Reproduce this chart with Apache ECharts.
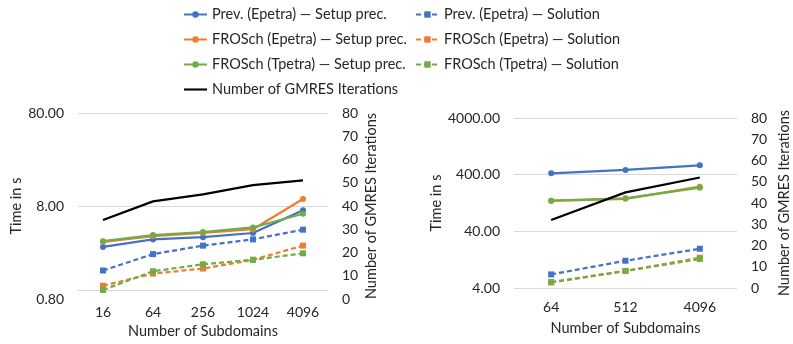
<!DOCTYPE html>
<html>
<head>
<meta charset="utf-8">
<script src="https://cdn.jsdelivr.net/npm/echarts@6/dist/echarts.min.js"></script>
<style>
  html, body { margin: 0; padding: 0; background: #fff; }
  #chart { width: 793px; height: 344px; }
</style>
</head>
<body>
<div id="chart"></div>
<script>
// left panel: 16..4096 subdomains
const subdomainsA = ['16', '64', '256', '1024', '4096'];
const prevSetupA = [2.9, 3.5, 3.7, 4.1, 7.2];
const froschESetupA = [3.3, 3.8, 4.1, 4.5, 9.5];
const froschTSetupA = [3.35, 3.9, 4.2, 4.7, 6.6];
const prevSolA = [1.62, 2.43, 3.0, 3.5, 4.45];
const froschESolA = [1.11, 1.5, 1.7, 2.11, 3.0];
const froschTSolA = [1.0, 1.59, 1.89, 2.11, 2.48];
const gmresA = [34, 42, 45, 49, 51];

// right panel: 64..4096 subdomains
const subdomainsB = ['64', '512', '4096'];
const prevSetupB = [422, 484, 584];
const froschESetupB = [138, 150, 246];
const froschTSetupB = [139, 153, 236];
const prevSolB = [6.95, 12.1, 19.7];
const froschESolB = [5.0, 8.0, 13.7];
const froschTSolB = [5.1, 8.0, 13.0];
const gmresB = [32, 45, 52];

const timeLabelsA = [0.8, 8, 80];
const timeGridA = [8, 80]; // bottom line of the left plot is drawn by the x axis
const timeLabelsB = [4, 40, 400, 4000];

const names = {
  prevSetup: 'Prev. (Epetra) — Setup prec.',
  prevSol: 'Prev. (Epetra) — Solution',
  fESetup: 'FROSch (Epetra) — Setup prec.',
  fESol: 'FROSch (Epetra) — Solution',
  fTSetup: 'FROSch (Tpetra) — Setup prec.',
  fTSol: 'FROSch (Tpetra) — Solution',
  gmres: 'Number of GMRES Iterations',
};

const BLUE = '#4472C4', ORANGE = '#ED7D31', GREEN = '#70AD47';
const FONT = 'Lato';
const TXT = '#262626';
const GRID = '#d9d9d9';

const chart = echarts.init(document.getElementById('chart'));

function timeSeries(name, data, color, dashed, idx) {
  return {
    name, type: 'line', data,
    xAxisIndex: idx, yAxisIndex: idx * 2,
    symbol: dashed ? 'rect' : 'circle',
    symbolSize: 6,
    lineStyle: { width: 2.25, color, type: dashed ? [5, 3] : 'solid' },
    itemStyle: { color },
    animation: false,
  };
}

function iterSeries(data, idx) {
  return {
    name: names.gmres, type: 'line', data,
    xAxisIndex: idx, yAxisIndex: idx * 2 + 1,
    symbol: 'none',
    lineStyle: { width: 2.25, color: '#000' },
    itemStyle: { color: '#000' },
    z: 5,
    animation: false,
  };
}

function catAxis(idx, cats, opts) {
  return {
    type: 'category', gridIndex: idx, data: cats,
    offset: opts.offset || 0,
    axisLine: { show: !!opts.line, lineStyle: { color: GRID, width: 1 } },
    axisTick: { show: false },
    axisLabel: { margin: opts.margin, fontFamily: FONT, fontSize: 14, color: TXT },
    name: 'Number of Subdomains', nameLocation: 'middle', nameGap: opts.nameGap,
    nameTextStyle: { fontFamily: FONT, fontSize: 14.5, color: TXT },
  };
}

function logAxis(idx, min, max, labels, grid, nameGap) {
  return {
    type: 'log', logBase: 10, gridIndex: idx, min, max,
    axisLine: { show: false },
    axisTick: { show: false, customValues: grid },
    axisLabel: {
      customValues: labels, margin: 14,
      fontFamily: FONT, fontSize: 14, color: TXT,
      formatter: v => Number(v).toFixed(2),
    },
    splitLine: { show: true, lineStyle: { color: GRID, width: 1 } },
    name: 'Time in s', nameLocation: 'middle', nameGap, nameRotate: 90,
    nameTextStyle: { fontFamily: FONT, fontSize: 14.5, color: TXT },
  };
}

function iterAxis(idx, nameGap) {
  return {
    type: 'value', gridIndex: idx, position: 'right',
    min: 0, max: 80, interval: 10,
    axisLine: { show: false }, axisTick: { show: false },
    splitLine: { show: false },
    axisLabel: { margin: 14, fontFamily: FONT, fontSize: 14, color: TXT },
    name: names.gmres, nameLocation: 'middle', nameGap, nameRotate: 90,
    nameTextStyle: { fontFamily: FONT, fontSize: 14.5, color: TXT },
  };
}

const legendBase = {
  orient: 'vertical', top: 7, padding: 0, itemGap: 10,
  itemWidth: 23, itemHeight: 8,
  textStyle: { fontFamily: FONT, fontSize: 14.5, color: TXT },
};

const option = {
  backgroundColor: '#fff',
  legend: [
    Object.assign({}, legendBase, {
      left: 183,
      data: [
        names.prevSetup, names.fESetup, names.fTSetup,
        { name: names.gmres, icon: 'path://M0,0L24,0L24,2.2L0,2.2Z' },
      ],
    }),
    Object.assign({}, legendBase, {
      left: 415,
      data: [names.prevSol, names.fESol, names.fTSol],
    }),
  ],
  grid: [
    { left: 78, right: 465, top: 113, bottom: 45 },
    { left: 514, right: 46, top: 118, bottom: 56 },
  ],
  xAxis: [
    catAxis(0, subdomainsA, { offset: -9, line: true, margin: 15, nameGap: 31 }),
    catAxis(1, subdomainsB, { margin: 12, nameGap: 33 }),
  ],
  yAxis: [
    logAxis(0, 0.8, 80, timeLabelsA, timeGridA, 52),
    iterAxis(0, 36),
    logAxis(1, 4, 4000, timeLabelsB, timeLabelsB, 68),
    iterAxis(1, 40),
  ],
  series: [
    timeSeries(names.prevSetup, prevSetupA, BLUE, false, 0),
    timeSeries(names.prevSol, prevSolA, BLUE, true, 0),
    timeSeries(names.fESetup, froschESetupA, ORANGE, false, 0),
    timeSeries(names.fESol, froschESolA, ORANGE, true, 0),
    timeSeries(names.fTSetup, froschTSetupA, GREEN, false, 0),
    timeSeries(names.fTSol, froschTSolA, GREEN, true, 0),
    iterSeries(gmresA, 0),
    timeSeries(names.prevSetup, prevSetupB, BLUE, false, 1),
    timeSeries(names.prevSol, prevSolB, BLUE, true, 1),
    timeSeries(names.fESetup, froschESetupB, ORANGE, false, 1),
    timeSeries(names.fESol, froschESolB, ORANGE, true, 1),
    timeSeries(names.fTSetup, froschTSetupB, GREEN, false, 1),
    timeSeries(names.fTSol, froschTSolB, GREEN, true, 1),
    iterSeries(gmresB, 1),
  ],
};

chart.setOption(option);
</script>
</body>
</html>
